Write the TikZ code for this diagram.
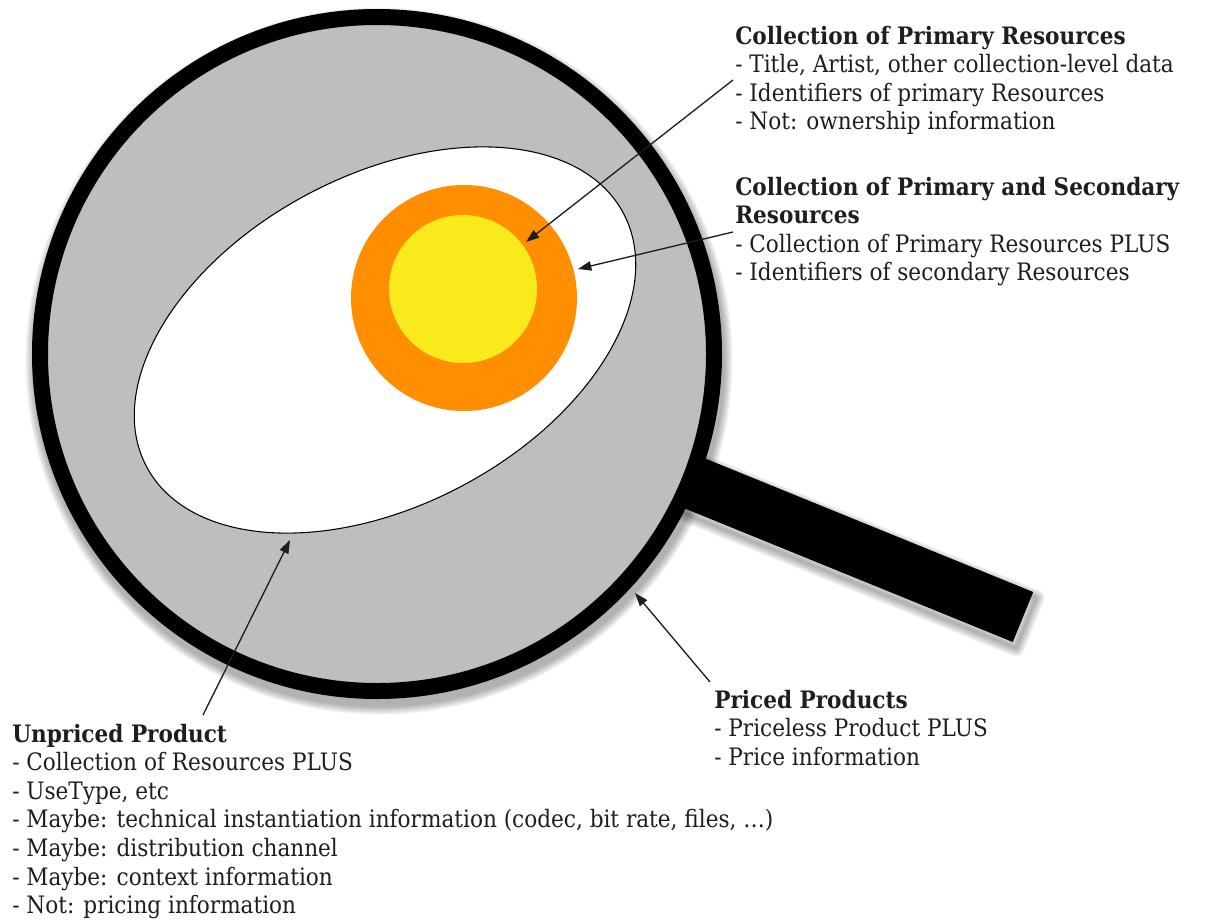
\documentclass[tikz,border=0pt]{standalone}
\usepackage{fontspec}
\setmainfont{DejaVu Serif}[FakeStretch=0.9]
\usetikzlibrary{arrows.meta}
\definecolor{lensgray}{HTML}{BEBEBE}
\definecolor{eggorange}{HTML}{FF8F00}
\definecolor{eggyellow}{HTML}{F9EA1C}
\definecolor{inktext}{HTML}{1E1E1E}
\begin{document}
\begin{tikzpicture}[x=0.75pt, y=-0.75pt,
  pointer/.style={draw=inktext, line width=1pt, -{Triangle[length=10pt,width=7pt]}},
  blocktext/.style={anchor=base west, inner sep=0pt, text=inktext,
    font=\fontsize{18pt}{21.45pt}\selectfont},
  shade/.style={black, opacity=0.035, line join=round}]
\useasboundingbox (0,0) rectangle (1220,921);

% soft drop shadow under the lens ring and the handle
\foreach \i in {1,...,10} {
  \draw[shade, line width=12pt+\i*1.3pt] (379,361) circle[radius=337];
  \draw[shade, line width=\i*1.3pt] (686,456) -- (1036,598) -- (1016,648) -- (666,506) -- cycle;
}

% handle
\fill[black] (683.6,449.7) -- (1033.2,592.0) -- (1012.8,642.0) -- (663.2,499.7) -- cycle;

% lens: grey glass with thick black rim
\filldraw[fill=lensgray, draw=black, line width=12pt] (377,354) circle[radius=337];

% white tilted ellipse
\filldraw[fill=white, draw=black, line width=0.8pt, rotate around={28:(385,340)}]
  (385,340) ellipse [x radius=270, y radius=165];

% orange and yellow discs
\fill[eggorange] (464,298) circle[radius=113];
\fill[eggyellow] (463,289) circle[radius=74];

% text blocks
\node[blocktext] (primary) at (735,44) {\begin{tabular}[t]{@{}l@{}}
  \textbf{Collection of Primary Resources}\\
  - Title, Artist, other collection-level data\\
  - Identifiers of primary Resources\\
  - Not: ownership information
\end{tabular}};

\node[blocktext] (secondary) at (735,195) {\begin{tabular}[t]{@{}l@{}}
  \textbf{Collection of Primary and Secondary}\\
  \textbf{Resources}\\
  - Collection of Primary Resources PLUS\\
  - Identifiers of secondary Resources
\end{tabular}};

\node[blocktext] (unpriced) at (12,742) {\begin{tabular}[t]{@{}l@{}}
  \textbf{Unpriced Product}\\
  - Collection of Resources PLUS\\
  - UseType, etc\\
  - Maybe: technical instantiation information (codec, bit rate, files, …)\\
  - Maybe: distribution channel\\
  - Maybe: context information\\
  - Not: pricing information
\end{tabular}};

\node[blocktext] (priced) at (714,708) {\begin{tabular}[t]{@{}l@{}}
  \textbf{Priced Products}\\
  - Priceless Product PLUS\\
  - Price information
\end{tabular}};

% connector ends
\coordinate (primaryTail) at (733,80);
\coordinate (primaryTip) at (526,242);
\coordinate (secondaryTail) at (733,232);
\coordinate (secondaryTip) at (578,269);
\coordinate (unpricedTail) at (203,715);
\coordinate (unpricedTip) at (290,540);
\coordinate (pricedTail) at (710,682);
\coordinate (pricedTip) at (635,593);

\draw[pointer] (primaryTail) -- (primaryTip);
\draw[pointer] (secondaryTail) -- (secondaryTip);
\draw[pointer] (unpricedTail) -- (unpricedTip);
\draw[pointer] (pricedTail) -- (pricedTip);
\end{tikzpicture}
\end{document}
